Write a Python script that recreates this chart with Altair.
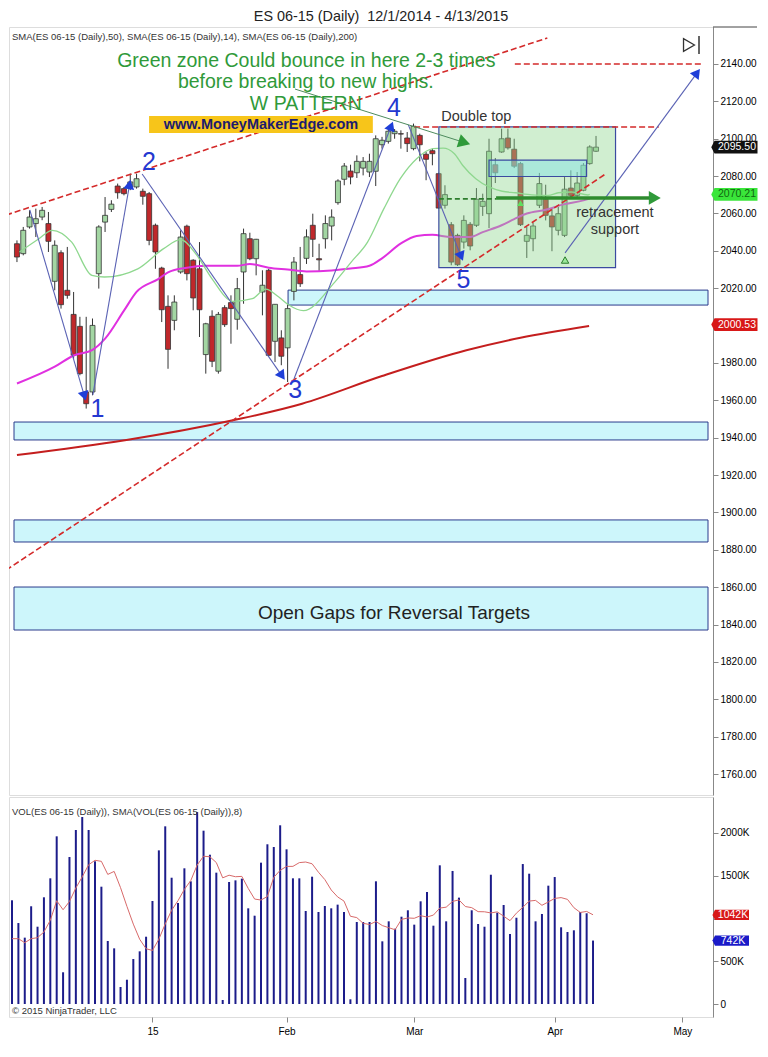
import altair as alt
import pandas as pd

# ---------------- data ----------------
opens = [2043.8, 2038.5, 2052.8, 2054.6, 2058.1, 2054.6, 2023.7, 2039.0, 2018.9, 2006.0,
         1999.6, 1964.5, 1964.5, 2027.8, 2055.4, 2062.2, 2074.7, 2073.3, 2074.2, 2074.2,
         2071.9, 2070.6, 2053.7, 2030.8, 2010.3, 2002.8, 2028.7, 2053.2, 2035.0, 2030.4,
         1984.5, 2005.0, 1975.6, 2009.6, 2012.3, 2003.4, 2028.7, 2046.5, 2035.8, 2018.0,
         2029.6, 1991.6, 1993.4, 1988.1, 2018.3, 2027.3, 2036.0, 2053.7, 2035.8, 2046.5,
         2053.3, 2065.8, 2078.3, 2082.7, 2081.8, 2084.3, 2082.2, 2082.6, 2096.8, 2098.6,
         2102.7, 2102.7, 2100.4, 2094.7, 2101.8, 2091.7, 2093.6, 2081.3, 2064.4, 2054.0,
         2048.3, 2044.7, 2054.2, 2053.7, 2063.8, 2059.9, 2086.1, 2092.9, 2100.4, 2094.4,
         2086.7, 2045.1, 2046.5, 2064.4, 2067.6, 2058.7, 2051.0, 2048.3, 2073.6, 2069.7,
         2072.4, 2086.7, 2093.3]
highs = [2045.6, 2052.8, 2061.7, 2062.6, 2063.5, 2060.8, 2045.6, 2040.3, 2042.1, 2018.0,
         2004.7, 2004.7, 2003.8, 2053.7, 2068.8, 2067.1, 2076.0, 2074.2, 2081.3, 2081.3,
         2073.3, 2071.5, 2054.6, 2031.5, 2016.2, 2016.2, 2051.0, 2054.0, 2035.5, 2044.7,
         2001.5, 2008.2, 2007.3, 2010.9, 2016.2, 2025.5, 2051.9, 2049.7, 2046.4, 2029.6,
         2030.4, 2011.4, 1997.5, 2011.7, 2036.7, 2042.1, 2051.5, 2059.9, 2043.8, 2059.0,
         2062.2, 2078.3, 2087.0, 2086.1, 2091.1, 2090.2, 2092.0, 2101.8, 2101.0, 2105.7,
         2105.2, 2104.5, 2103.6, 2108.1, 2102.7, 2092.9, 2094.7, 2081.8, 2075.1, 2055.4,
         2049.2, 2059.0, 2055.4, 2073.6, 2070.6, 2100.0, 2089.7, 2105.4, 2105.4, 2100.0,
         2087.6, 2052.8, 2055.1, 2081.7, 2075.4, 2062.6, 2063.5, 2079.5, 2083.1, 2082.2,
         2087.0, 2096.5, 2101.5]
lows = [2034.0, 2037.6, 2051.9, 2047.4, 2056.4, 2039.4, 2018.9, 2009.1, 2014.4, 1982.3,
        1973.4, 1955.6, 1962.7, 2019.8, 2050.1, 2060.8, 2067.9, 2069.7, 2072.5, 2073.3,
        2064.7, 2043.0, 2030.4, 2001.9, 1976.9, 1997.5, 2027.8, 2024.2, 2008.2, 1993.9,
        1974.3, 1977.8, 1974.3, 1999.3, 1990.3, 1997.8, 2011.7, 2035.0, 2026.9, 2005.5,
        1983.7, 1980.5, 1978.8, 1969.8, 2013.5, 2020.7, 2033.0, 2036.7, 2028.7, 2041.2,
        2045.6, 2064.7, 2075.1, 2075.6, 2079.0, 2080.4, 2079.5, 2074.7, 2094.7, 2097.4,
        2100.0, 2094.7, 2092.9, 2093.8, 2087.9, 2077.8, 2085.8, 2062.6, 2062.6, 2032.3,
        2031.9, 2041.2, 2040.3, 2052.8, 2058.7, 2052.2, 2076.3, 2092.5, 2094.2, 2084.3,
        2053.3, 2036.2, 2039.8, 2062.9, 2056.3, 2039.8, 2048.3, 2047.4, 2068.3, 2067.9,
        2071.9, 2086.1, 2092.9]
closes = [2036.7, 2051.0, 2058.1, 2057.2, 2061.7, 2045.1, 2043.0, 2011.2, 2016.2, 1984.1,
          1974.3, 1958.2, 2000.1, 2052.8, 2059.0, 2065.0, 2071.1, 2070.6, 2076.9, 2078.6,
          2069.2, 2045.6, 2039.4, 2008.5, 1987.3, 2012.6, 2047.4, 2027.8, 2014.8, 2008.5,
          2001.0, 1980.9, 2006.0, 2000.5, 2009.1, 2019.8, 2049.2, 2035.8, 2046.2, 2021.6,
          1984.1, 2011.4, 1983.6, 2009.1, 2034.0, 2022.4, 2047.5, 2046.2, 2035.2, 2054.6,
          2058.1, 2077.4, 2085.4, 2079.5, 2087.9, 2087.9, 2087.9, 2100.0, 2099.2, 2104.0,
          2104.0, 2102.5, 2097.4, 2106.7, 2096.8, 2089.0, 2092.0, 2062.9, 2070.1, 2034.0,
          2032.6, 2056.3, 2042.6, 2067.6, 2066.5, 2093.3, 2081.8, 2100.0, 2095.1, 2085.3,
          2054.0, 2048.3, 2053.3, 2076.0, 2059.0, 2052.8, 2059.9, 2073.0, 2069.7, 2076.3,
          2085.8, 2095.6, 2095.5]

volumes_k = [1213, 947, 776, 1143, 904, 1248, 1470, 1961, 371, 1719,
             2035, 2187, 2035, 1669, 1372, 737, 651, 199, 284, 526,
             616, 787, 1205, 1797, 2078, 1477, 1181, 1587, 1435, 2245,
             2027, 1746, 1536, 47, 1427, 1446, 1466, 1119, 1033, 1653,
             1868, 1836, 2090, 1809, 1470, 1470, 1088, 1489, 1076, 1146,
             1119, 1162, 1076, 55, 959, 959, 959, 1435, 733, 967,
             881, 1021, 1096, 928, 1201, 1310, 916, 1622, 967, 1556,
             1244, 304, 1096, 936, 904, 1512, 1068, 1158, 819, 1009,
             1637, 1524, 967, 1053, 1384, 1485, 897, 842, 862, 1076,
             1061, 742]
vol_sma_head_k = [764, 764, 717, 764, 776, 842, 979]   # first 7 SMA(8) values as drawn

sma50_bar = [0, 6, 9, 12, 14, 17, 19, 22.5, 24, 27, 30, 32, 35, 37, 40, 43, 46, 50, 53, 56,
             58, 61, 63.5, 66, 69, 72, 74, 77, 79, 81, 84, 87, 90, 91]
sma50_val = [1969, 1978, 1984, 1987, 1993, 2008, 2018, 2025, 2028.5, 2031, 2032, 2032, 2032,
             2033, 2031, 2030, 2029, 2029.5, 2030.5, 2032, 2036, 2044, 2048, 2048.6, 2047.4,
             2047.4, 2050, 2053.7, 2057, 2060, 2062, 2065, 2067, 2068]
sma14_bar = [0.4, 3.5, 5.6, 8.7, 11.9, 13.9, 19.2, 23.3, 26, 28.5, 31, 34.3, 37.4, 39.5, 41.6,
             43.2, 45.5, 50.5, 53.1, 55.7, 58.3, 60.9, 63.5, 66.1, 67.7, 69.5, 70.8, 72.9, 75,
             77.1, 79.2, 81.8, 84.4, 86, 88.1, 90.7, 91]
sma14_val = [2039.4, 2046.5, 2051.0, 2044.7, 2026.9, 2026.0, 2030.4, 2041.2, 2046, 2038, 2025,
             2013, 2014.4, 2019.5, 2015.3, 2011, 2008, 2023.3, 2034, 2044.7, 2062.6, 2078.6,
             2089.3, 2094.7, 2095, 2092, 2085.8, 2078.6, 2074.2, 2071.9, 2071.1, 2070, 2069.7,
             2071.1, 2071.5, 2069.9, 2070.2]
sma200_bar = [0, 34.3, 45.3, 58, 71.4, 80, 90.9]
sma200_val = [1930.7, 1949.3, 1958.2, 1973.0, 1986.8, 1993.5, 1999.8]

gap_start = [43.07, -0.47, -0.47, -0.47]
gap_lo = [2011.0, 1938.8, 1884.2, 1837.1]
gap_hi = [2019.0, 1948.4, 1896.0, 1860.1]

tick_bars = [22, 43, 63, 85, 105]
tick_labels = ["15", "Feb", "Mar", "Apr", "May"]

price_badge_vals = [2095.50, 2070.21, 2000.53]
vol_badge_vals = [1042000, 742000]

# ---------------- layout / style ----------------
FONT = "Liberation Sans"
X0, X1 = -0.47, 109.79
P0, P1 = 1748.8, 2159.8
V0, V1 = -152000, 2421000
W, HP, HV = 704, 768, 220

xs = alt.Scale(domain=[X0, X1], nice=False, zero=False)
ps = alt.Scale(domain=[P0, P1], nice=False, zero=False)
vs = alt.Scale(domain=[V0, V1], nice=False, zero=False)

price_axis = alt.Axis(orient="right", values=list(range(1760, 2141, 20)),
                      labelExpr="datum.value == 2000 ? '' : format(datum.value, '.2f')",
                      title=None, grid=False, tickSize=5, labelPadding=2)
vol_axis = alt.Axis(orient="right", values=[0, 500000, 1000000, 1500000, 2000000],
                    labelExpr="datum.value == 0 ? '0' : datum.value == 1000000 ? '' : format(datum.value/1000, 'd') + 'K'",
                    title=None, grid=False, tickSize=5, labelPadding=2)
lab_expr = " : ".join(f"datum.value == {b} ? '{t}'" for b, t in zip(tick_bars, tick_labels)) + " : ''"
x_axis = alt.Axis(values=tick_bars, labelExpr=lab_expr, title=None, grid=False, tickSize=5,
                  labelPadding=4, domain=False)


def PX(f):
    return alt.X(f, type="quantitative", scale=xs, axis=None)


def PY(f):
    return alt.Y(f, type="quantitative", scale=ps, axis=price_axis)


def VX(f):
    return alt.X(f, type="quantitative", scale=xs, axis=x_axis)


def VY(f):
    return alt.Y(f, type="quantitative", scale=vs, axis=vol_axis)


n = len(opens)
cdf = pd.DataFrame({"bar": list(range(n)), "open": opens, "high": highs, "low": lows, "close": closes})
cdf["dir"] = ["up" if c >= o else "down" for o, c in zip(opens, closes)]

gdf = pd.DataFrame({"x0": gap_start, "x1": [X1] * 4, "lo": gap_lo, "hi": gap_hi})

gaps = alt.Chart(gdf).mark_rect(fill="#cdf6fb", stroke="#2a3a8c", strokeWidth=1).encode(
    x=PX("x0"), x2="x1", y=PY("lo"), y2="hi")
wicks = alt.Chart(cdf).mark_rule(color="#333333", strokeWidth=1).encode(
    x=PX("bar"), y=PY("low"), y2="high")
bodies = alt.Chart(cdf).mark_bar(size=5, stroke="#333333", strokeWidth=0.8).encode(
    x=PX("bar"), y=PY("open"), y2="close",
    color=alt.Color("dir:N", scale=alt.Scale(domain=["up", "down"], range=["#a3d6a3", "#c0282b"]),
                    legend=None))


def ma_line(bars, vals, color, width):
    d = pd.DataFrame({"bar": bars, "v": vals})
    return alt.Chart(d).mark_line(color=color, strokeWidth=width, interpolate="monotone").encode(
        x=PX("bar"), y=PY("v"))


sma200 = ma_line(sma200_bar, sma200_val, "#c41e1e", 2)
sma50 = ma_line(sma50_bar, sma50_val, "#e030e0", 2)
sma14 = ma_line(sma14_bar, sma14_val, "#8fd88f", 1.3)

zone = alt.Chart(pd.DataFrame({"a": [67.03], "b": [95.1], "lo": [2031.0], "hi": [2106.3]})).mark_rect(
    fill="#8fd68f", fillOpacity=0.42, stroke="#3b4aa0", strokeWidth=1.2).encode(
    x=PX("a"), x2="b", y=PY("lo"), y2="hi")
cyanbox = alt.Chart(pd.DataFrame({"a": [75.0], "b": [90.5], "lo": [2079.8], "hi": [2088.6]})).mark_rect(
    fill="#7fdfe6", fillOpacity=0.45, stroke="#3b4aa0", strokeWidth=1.2).encode(
    x=PX("a"), x2="b", y=PY("lo"), y2="hi")


def seg_df(segs):
    rows = []
    for i, (xa, ya, xb, yb) in enumerate(segs):
        rows.append({"id": i, "o": 0, "x": xa, "y": ya})
        rows.append({"id": i, "o": 1, "x": xb, "y": yb})
    return pd.DataFrame(rows)


red_dash = alt.Chart(seg_df([(-1.72, 2059.2, 84.26, 2153.9), (-1.72, 1869.2, 93.5, 2081.1),
                             (63.1, 2106.3, 101.96, 2106.3), (79.1, 2140.0, 109.0, 2140.0)])).mark_line(
    color="#d42a2a", strokeWidth=1.6, strokeDash=[6, 3], clip=True).encode(
    x=PX("x"), y=PY("y"), detail="id:N", order="o:Q")

blue_lines = alt.Chart(seg_df([(2.04, 2061.9, 10.65, 1963.1), (12.06, 1962.9, 17.85, 2074.7),
                               (19.89, 2081.1, 41.97, 1973.8), (44.01, 1971.4, 59.36, 2106.0),
                               (62.18, 2107.4, 70.48, 2037.8), (87.08, 2038.9, 107.91, 2134.6)])).mark_line(
    color="#5a62b4", strokeWidth=1.1).encode(x=PX("x"), y=PY("y"), detail="id:N", order="o:Q")
blue_heads = alt.Chart(pd.DataFrame({
    "x": [10.65, 17.85, 41.97, 59.36, 70.48, 107.91],
    "y": [1963.1, 2074.7, 1973.8, 2106.0, 2037.8, 2134.6],
    "a": [163.4, 10.0, 144.9, 21.3, 157.8, 36.6]})).mark_point(
    shape="triangle", filled=True, size=120, opacity=1, color="#1f3fd8").encode(
    x=PX("x"), y=PY("y"), angle=alt.Angle("a:Q", scale=None))

green_thin = alt.Chart(seg_df([(44.17, 2126.6, 70.79, 2098.3)])).mark_line(
    color="#4e8c5e", strokeWidth=1).encode(x=PX("x"), y=PY("y"), detail="id:N", order="o:Q")
green_dash = alt.Chart(seg_df([(67.03, 2067.8, 76.12, 2067.8)])).mark_line(
    color="#2e7d2e", strokeWidth=1.6, strokeDash=[5, 3]).encode(x=PX("x"), y=PY("y"), detail="id:N", order="o:Q")
green_thick = alt.Chart(seg_df([(76.12, 2068.3, 101.02, 2068.3)])).mark_line(
    color="#2e8b2e", strokeWidth=3.5).encode(x=PX("x"), y=PY("y"), detail="id:N", order="o:Q")
green_heads = alt.Chart(pd.DataFrame({"x": [70.79, 101.02], "y": [2098.3, 2068.3], "a": [107.3, 90.0]})).mark_point(
    shape="triangle", filled=True, size=190, opacity=1, color="#2f9a3a").encode(
    x=PX("x"), y=PY("y"), angle=alt.Angle("a:Q", scale=None))
small_tri = alt.Chart(pd.DataFrame({"x": [87.08], "y": [2035.1]})).mark_point(
    shape="triangle-up", filled=True, size=55, opacity=1, fill="#9be89b", stroke="#2b7d2b", strokeWidth=1).encode(
    x=PX("x"), y=PY("y"))
up_arrow = alt.Chart(pd.DataFrame({"x": [80.0], "y": [2065.5]})).mark_point(
    shape="triangle-up", filled=True, size=45, opacity=1, color="#5ee05e").encode(x=PX("x"), y=PY("y"))

yellow = alt.Chart(pd.DataFrame({"a": [20.99], "b": [56.54], "lo": [2103.1], "hi": [2112.2]})).mark_rect(
    fill="#f7c51a").encode(x=PX("a"), x2="b", y=PY("lo"), y2="hi")


def txt(x, y, s, size, color, weight="normal", align="center"):
    d = pd.DataFrame({"x": [x], "y": [y], "t": [s]})
    return alt.Chart(d).mark_text(fontSize=size, color=color, font=FONT, fontWeight=weight,
                                  align=align, baseline="middle").encode(x=PX("x"), y=PY("y"), text="t:N")


texts = [
    txt(45.97, 2141.6, "Green zone Could bounce in here 2-3 times", 19.5, "#2f9a3a"),
    txt(45.89, 2130.4, "before breaking to new highs.", 19.5, "#2f9a3a"),
    txt(45.89, 2118.6, "W PATTERN", 19.5, "#2f9a3a"),
    txt(38.76, 2107.6, "www.MoneyMakerEdge.com", 14.5, "#1c1c6e", "bold"),
    txt(72.98, 2111.6, "Double top", 14.5, "#333333"),
    txt(95.0, 2060.4, "retracement", 14.5, "#333333"),
    txt(95.0, 2051.2, "support", 14.5, "#333333"),
    txt(59.9, 1846.2, "Open Gaps for Reversal Targets", 19, "#222222"),
    txt(12.8, 1955.4, "1", 25, "#2438d0"),
    txt(20.99, 2087.6, "2", 25, "#2438d0"),
    txt(44.2, 1965.5, "3", 25, "#2438d0"),
    txt(59.9, 2116.5, "4", 25, "#2438d0"),
    txt(70.95, 2024.4, "5", 25, "#2438d0"),
]

title_txt = alt.Chart(pd.DataFrame({"t": ["ES 06-15 (Daily)\u00a0 12/1/2014 - 4/13/2015"]})).mark_text(
    fontSize=14.4, color="#222222", font=FONT, align="center", baseline="middle").encode(
    x=alt.value(372), y=alt.value(-10), text="t:N")

one = pd.DataFrame({"t": ["SMA(ES 06-15 (Daily),50), SMA(ES 06-15 (Daily),14), SMA(ES 06-15 (Daily),200)"]})
header = alt.Chart(one).mark_text(fontSize=9.5, color="#333333", font=FONT, align="left", baseline="middle").encode(
    x=alt.value(3), y=alt.value(10), text="t:N")

icon_tri = alt.Chart(pd.DataFrame({"a": [0]})).mark_point(
    shape="triangle-right", filled=False, size=160, stroke="#333333", strokeWidth=1.3, opacity=1).encode(
    x=alt.value(680), y=alt.value(18))
icon_bar = alt.Chart(pd.DataFrame({"a": [0]})).mark_rule(color="#333333", strokeWidth=1.5).encode(
    x=alt.value(690), y=alt.value(9), y2=alt.value(27))
top_ext = alt.Chart(pd.DataFrame({"a": [0]})).mark_rule(color="#444444", strokeWidth=1).encode(
    x=alt.value(704), x2=alt.value(748), y=alt.value(0))

BADGE = "M-1.15,0L-1,-0.3L1,-0.3L1,0.3L-1,0.3Z"


def badges(vals, labels, bgs, fgs, xc, size, yf):
    out = []
    for v, lab, bg, fg in zip(vals, labels, bgs, fgs):
        d = pd.DataFrame({"v": [v], "t": [lab]})
        out.append(alt.Chart(d).mark_point(shape=BADGE, size=size, filled=True, opacity=1, color=bg,
                                           strokeWidth=0).encode(x=alt.value(xc), y=yf("v")))
        out.append(alt.Chart(d).mark_text(color=fg, fontSize=10.5, font=FONT, align="center",
                                          baseline="middle", dx=1).encode(x=alt.value(xc), y=yf("v"), text="t:N"))
    return out


price_badges = badges(price_badge_vals, [f"{v:.2f}" for v in price_badge_vals],
                      ["#111111", "#3ae63a", "#d81818"], ["#ffffff", "#116611", "#ffffff"], 727, 1849, PY)

price = alt.layer(
    gaps, wicks, bodies, sma200, sma50, sma14, zone, cyanbox, red_dash, blue_lines, blue_heads,
    green_thin, green_dash, green_thick, green_heads, small_tri, up_arrow, yellow, *texts,
    title_txt, header, icon_tri, icon_bar, top_ext, *price_badges
).properties(width=W, height=HP)

# ---------------- volume panel ----------------
vol_sma = pd.Series(volumes_k, dtype=float).rolling(8).mean().tolist()
vol_sma[:7] = vol_sma_head_k
vdf = pd.DataFrame({"bar": list(range(len(volumes_k))), "vol": [v * 1000 for v in volumes_k],
                    "base": [0] * len(volumes_k), "sma": [v * 1000 for v in vol_sma]})

vbars = alt.Chart(vdf).mark_rule(color="#1c1c8a", strokeWidth=2).encode(
    x=VX("bar"), y=VY("base"), y2="vol")
vline = alt.Chart(vdf).mark_line(color="#d86a6a", strokeWidth=1).encode(x=VX("bar"), y=VY("sma"))
vhead = alt.Chart(pd.DataFrame({"t": ["VOL(ES 06-15 (Daily)), SMA(VOL(ES 06-15 (Daily)),8)"]})).mark_text(
    fontSize=9.5, color="#333333", font=FONT, align="left", baseline="middle").encode(
    x=alt.value(3), y=alt.value(15), text="t:N")
vcopy = alt.Chart(pd.DataFrame({"t": ["© 2015 NinjaTrader, LLC"]})).mark_text(
    fontSize=9.5, color="#333333", font=FONT, align="left", baseline="middle").encode(
    x=alt.value(3), y=alt.value(214), text="t:N")
vol_badges = badges(vol_badge_vals, ["1042K", "742K"], ["#d81818", "#1a1ac8"], ["#ffffff", "#ffffff"],
                    723, 1156, VY)

volume = alt.layer(vbars, vline, vhead, vcopy, *vol_badges).properties(width=W, height=HV)

chart = alt.vconcat(price, volume, spacing=2, bounds="flush").properties(
    padding=0,
).configure_view(stroke="#444444", strokeWidth=1).configure_axis(
    labelFont=FONT, labelFontSize=10.5, labelColor="#333333", tickColor="#555555", domainColor="#555555"
).configure(background="white")

chart.save("out.html", embed_options={"renderer": "svg", "actions": False})
